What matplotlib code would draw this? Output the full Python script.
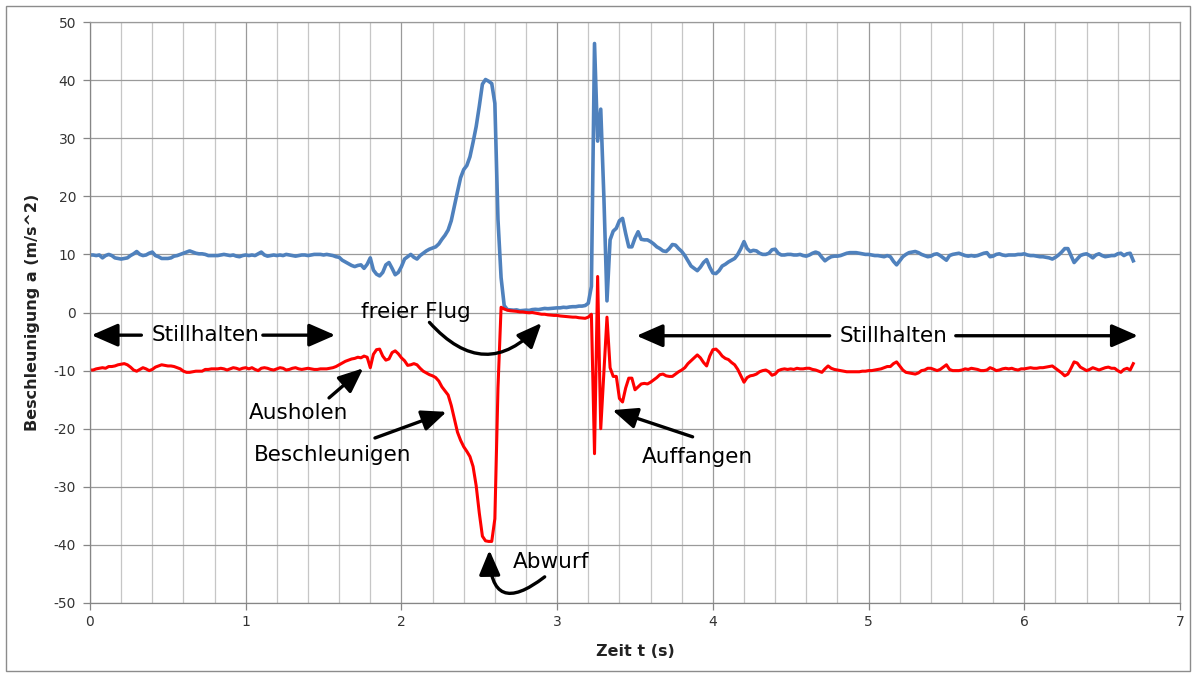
import numpy as np
import matplotlib
matplotlib.use("Agg")
import matplotlib.pyplot as plt
from matplotlib.patches import Rectangle
from matplotlib.ticker import MultipleLocator

plt.rcParams["axes.unicode_minus"] = False

# Sample interval of the accelerometer recording (s)
dt = 0.02

# Acceleration sensor values (m/s^2), one row = 0.2 s
accel_blue = [
    9.9, 9.9, 9.8, 9.9, 9.4, 9.8, 10.0, 9.8, 9.4, 9.3,
    9.2, 9.3, 9.4, 9.8, 10.1, 10.5, 10.0, 9.8, 9.9, 10.2,
    10.4, 9.8, 9.6, 9.3, 9.3, 9.3, 9.4, 9.7, 9.8, 10.0,
    10.2, 10.4, 10.6, 10.4, 10.2, 10.1, 10.1, 10.0, 9.8, 9.8,
    9.8, 9.8, 9.9, 10.0, 9.9, 9.8, 9.9, 9.7, 9.6, 9.8,
    9.9, 9.8, 9.9, 9.8, 10.1, 10.4, 9.9, 9.7, 9.8, 9.9,
    9.8, 9.9, 9.8, 10.0, 9.9, 9.8, 9.7, 9.8, 9.9, 9.9,
    9.8, 9.9, 10.0, 10.0, 10.0, 9.9, 10.0, 9.9, 9.8, 9.6,
    9.5, 9.0, 8.7, 8.4, 8.1, 7.9, 8.1, 8.2, 7.6, 8.3,
    9.4, 7.3, 6.6, 6.3, 6.9, 8.2, 8.6, 7.6, 6.5, 6.9,
    7.9, 9.2, 9.6, 10.0, 9.5, 9.2, 9.8, 10.2, 10.6, 10.9,
    11.1, 11.3, 11.8, 12.6, 13.3, 14.2, 15.8, 18.3, 20.8, 23.2,
    24.6, 25.3, 26.8, 29.3, 32.0, 35.5, 39.3, 40.1, 39.8, 39.4,
    36.0, 16.0, 6.0, 1.2, 0.5, 0.45, 0.4, 0.45, 0.3, 0.35,
    0.4, 0.35, 0.5, 0.55, 0.5, 0.6, 0.7, 0.65, 0.7, 0.75,
    0.8, 0.8, 0.9, 0.85, 0.95, 1.0, 1.0, 1.1, 1.1, 1.2,
    1.6, 4.5, 46.3, 29.5, 35.0, 20.0, 2.0, 12.5, 14.0, 14.5,
    15.8, 16.2, 13.6, 11.3, 11.3, 12.8, 13.9, 12.6, 12.5, 12.5,
    12.2, 11.8, 11.3, 11.0, 10.6, 10.5, 11.0, 11.7, 11.6, 11.0,
    10.5, 9.8, 8.9, 8.0, 7.6, 7.2, 7.8, 8.6, 9.1, 7.8,
    6.8, 6.7, 7.2, 8.0, 8.3, 8.7, 9.0, 9.3, 10.0, 11.0,
    12.2, 11.0, 10.5, 10.7, 10.6, 10.2, 10.0, 10.0, 10.2, 10.8,
    10.9, 10.2, 9.9, 9.9, 10.0, 10.0, 9.9, 9.9, 10.0, 9.8,
    9.7, 9.9, 10.2, 10.4, 10.2, 9.5, 8.9, 9.3, 9.6, 9.7,
    9.7, 9.8, 10.0, 10.2, 10.3, 10.3, 10.3, 10.2, 10.1, 10.0,
    10.0, 9.9, 9.8, 9.8, 9.7, 9.6, 9.8, 9.6, 8.8, 8.2,
    8.9, 9.6, 10.0, 10.3, 10.4, 10.5, 10.3, 10.0, 9.8, 9.6,
    9.7, 10.0, 10.1, 9.8, 9.4, 9.0, 9.8, 10.0, 10.1, 10.2,
    10.0, 9.8, 9.7, 9.8, 9.7, 9.8, 10.0, 10.2, 10.3, 9.6,
    9.7, 10.0, 10.1, 9.9, 9.8, 9.9, 9.9, 9.9, 10.0, 10.0,
    10.1, 9.9, 9.8, 9.8, 9.7, 9.6, 9.6, 9.5, 9.4, 9.2,
    9.5, 9.9, 10.4, 11.0, 11.0, 9.8, 8.6, 9.2, 9.8, 10.0,
    10.1, 9.8, 9.4, 9.9, 10.1, 9.8, 9.6, 9.7, 9.8, 9.8,
    10.1, 10.2, 9.8, 10.1, 10.2, 8.9,
]

accel_red = [
    -9.9, -9.9, -9.7, -9.6, -9.5, -9.6, -9.3, -9.3, -9.2, -9.0,
    -8.9, -8.8, -9.0, -9.4, -9.9, -10.1, -9.8, -9.5, -9.7, -10.0,
    -9.8, -9.4, -9.2, -9.0, -9.1, -9.2, -9.2, -9.3, -9.5, -9.7,
    -10.1, -10.3, -10.3, -10.2, -10.1, -10.1, -10.1, -9.8, -9.8, -9.7,
    -9.7, -9.7, -9.6, -9.7, -9.9, -9.7, -9.5, -9.6, -9.8, -9.6,
    -9.5, -9.7, -9.5, -9.8, -10.0, -9.6, -9.5, -9.6, -9.8, -9.9,
    -9.7, -9.5, -9.6, -9.9, -9.8, -9.6, -9.5, -9.7, -9.8, -9.7,
    -9.6, -9.7, -9.8, -9.8, -9.7, -9.7, -9.7, -9.6, -9.5, -9.3,
    -9.0, -8.7, -8.4, -8.2, -8.0, -7.9, -7.7, -7.8, -7.5, -7.7,
    -9.5, -7.2, -6.4, -6.3, -7.5, -8.2, -8.0, -6.9, -6.6, -7.1,
    -7.8, -8.3, -9.1, -9.0, -8.8, -9.0, -9.6, -10.1, -10.4, -10.7,
    -10.9, -11.2, -11.8, -12.8, -13.5, -14.2, -16.0, -18.3, -20.6, -22.0,
    -23.1, -23.9, -24.8, -26.5, -29.8, -34.5, -38.5, -39.3, -39.4, -39.4,
    -35.5, -13.0, 0.9, 0.6, 0.4, 0.3, 0.25, 0.2, 0.1, 0.1,
    0.0, -0.05, 0.0, -0.1, -0.2, -0.3, -0.3, -0.4, -0.45, -0.5,
    -0.5, -0.6, -0.65, -0.7, -0.75, -0.8, -0.8, -0.9, -0.95, -1.0,
    -0.8, -0.3, -24.3, 6.2, -20.0, -10.5, -0.8, -9.5, -11.0, -11.0,
    -14.8, -15.4, -13.0, -11.3, -11.3, -13.3, -12.8, -12.3, -12.2, -12.3,
    -12.0, -11.6, -11.2, -10.7, -10.6, -10.9, -11.0, -11.0, -10.6, -10.2,
    -9.9, -9.5, -8.8, -8.3, -7.8, -7.3, -7.8, -8.6, -9.2, -7.5,
    -6.4, -6.3, -6.8, -7.5, -7.9, -8.1, -8.6, -9.0, -9.8, -10.9,
    -12.0, -11.2, -10.9, -10.8, -10.6, -10.2, -10.0, -9.9, -10.2, -10.8,
    -10.6, -10.0, -9.8, -9.7, -9.8, -9.7, -9.8, -9.6, -9.7, -9.7,
    -9.6, -9.6, -9.8, -9.9, -10.1, -10.3, -9.7, -9.2, -9.6, -9.8,
    -9.9, -10.0, -10.1, -10.2, -10.2, -10.2, -10.2, -10.2, -10.1, -10.1,
    -10.0, -10.0, -9.9, -9.8, -9.7, -9.5, -9.3, -9.3, -8.8, -8.5,
    -9.2, -9.9, -10.3, -10.4, -10.5, -10.6, -10.4, -10.0, -9.9, -9.6,
    -9.6, -9.8, -10.0, -9.8, -9.4, -9.0, -9.8, -10.0, -10.0, -10.0,
    -9.9, -9.7, -9.8, -9.6, -9.7, -9.8, -10.0, -10.0, -9.9, -9.5,
    -9.7, -10.0, -9.9, -9.7, -9.6, -9.7, -9.6, -9.8, -9.9, -9.7,
    -9.7, -9.6, -9.5, -9.6, -9.6, -9.5, -9.5, -9.4, -9.3, -9.2,
    -9.6, -10.0, -10.4, -10.9, -10.6, -9.6, -8.5, -8.7, -9.4, -9.7,
    -10.0, -9.8, -9.5, -9.7, -9.9, -9.7, -9.5, -9.4, -9.6, -9.6,
    -10.0, -10.3, -9.8, -9.6, -9.9, -8.8,
]

time_blue = dt * np.arange(len(accel_blue))
time_red = dt * np.arange(len(accel_red))

x_ticks = [0, 1, 2, 3, 4, 5, 6, 7]
y_ticks = [50, 40, 30, 20, 10, 0, -10, -20, -30, -40, -50]

fig = plt.figure(figsize=(11.96, 6.77), dpi=100)
fig.patch.set_facecolor("white")
ax = fig.add_axes([90 / 1196, 1 - 603 / 677, 1090 / 1196, 581 / 677])

# grid
ax.set_xlim(0, 7)
ax.set_ylim(-50, 50)
ax.set_xticks(x_ticks)
ax.set_yticks(y_ticks)
ax.xaxis.set_minor_locator(MultipleLocator(0.2))
ax.grid(which="major", axis="both", color="#9a9a9a", lw=0.9)
ax.grid(which="minor", axis="x", color="#c6c6c6", lw=0.9)
ax.set_axisbelow(True)
ax.tick_params(which="minor", length=0)
ax.tick_params(which="major", direction="out", length=5, width=0.9,
               color="#868686", labelsize=10, labelcolor="#333333")
ax.tick_params(axis="y", pad=5)
ax.tick_params(axis="x", pad=4)
for side in ["left", "bottom"]:
    ax.spines[side].set_color("#868686")
    ax.spines[side].set_linewidth(0.9)
for side in ["top", "right"]:
    ax.spines[side].set_color("#9a9a9a")
    ax.spines[side].set_linewidth(0.9)

# curves
ax.plot(time_blue, accel_blue, color="#4F81BD", lw=2.6, solid_joinstyle="round")
ax.plot(time_red, accel_red, color="#FF0000", lw=2.2, solid_joinstyle="round")

ax.set_xlabel("Zeit t (s)", fontsize=11.5, fontweight="bold", color="#222222")
ax.set_ylabel("Beschleunigung a (m/s^2)", fontsize=11.5, fontweight="bold", color="#222222")
ax.xaxis.set_label_coords(0.5, -0.07)
ax.yaxis.set_label_coords(-0.046, 0.5)

# annotations
txt = dict(fontsize=15.5, color="black", ha="center", va="center")
big = dict(arrowstyle="-|>,head_length=0.8,head_width=0.35", color="black",
           lw=2.4, mutation_scale=20, shrinkA=0, shrinkB=0)
mid = dict(arrowstyle="-|>,head_length=0.75,head_width=0.32", color="black",
           lw=2.4, mutation_scale=20, shrinkA=0, shrinkB=0)


def arrow(start, tip, props, rad=0.0):
    p = dict(props)
    if rad:
        p["connectionstyle"] = f"arc3,rad={rad}"
    ax.annotate("", xy=tip, xytext=start, arrowprops=p)


# Stillhalten (left)
ax.text(0.74, -3.9, "Stillhalten", **txt)
arrow((0.33, -3.9), (0.01, -3.9), big)
arrow((1.11, -3.9), (1.575, -3.9), big)

# Stillhalten (right)
ax.text(5.16, -4.0, "Stillhalten", **txt)
arrow((4.75, -4.0), (3.51, -4.0), big)
arrow((5.56, -4.0), (6.73, -4.0), big)

# Ausholen
ax.text(1.34, -17.3, "Ausholen", **txt)
arrow((1.535, -14.7), (1.755, -9.6), mid)

# Beschleunigen
ax.text(1.56, -24.5, "Beschleunigen", **txt)
arrow((1.83, -21.6), (2.29, -17.1), mid)

# freier Flug
ax.text(2.09, 0.0, "freier Flug", **txt)
arrow((2.18, -1.7), (2.90, -1.8), mid, rad=0.55)

# Abwurf
ax.text(2.96, -42.9, "Abwurf", **txt)
arrow((2.92, -45.5), (2.565, -40.9), mid, rad=-1.0)

# Auffangen
ax.text(3.90, -24.9, "Auffangen", **txt)
arrow((3.87, -21.4), (3.355, -16.8), mid)

# outer frame of the chart area
fig.patches.append(Rectangle((6 / 1196, 1 - 671 / 677), 1184 / 1196, 665 / 677,
                             transform=fig.transFigure, fill=False,
                             edgecolor="#8c8c8c", lw=1.0))

fig.savefig("out.png", dpi=100)
